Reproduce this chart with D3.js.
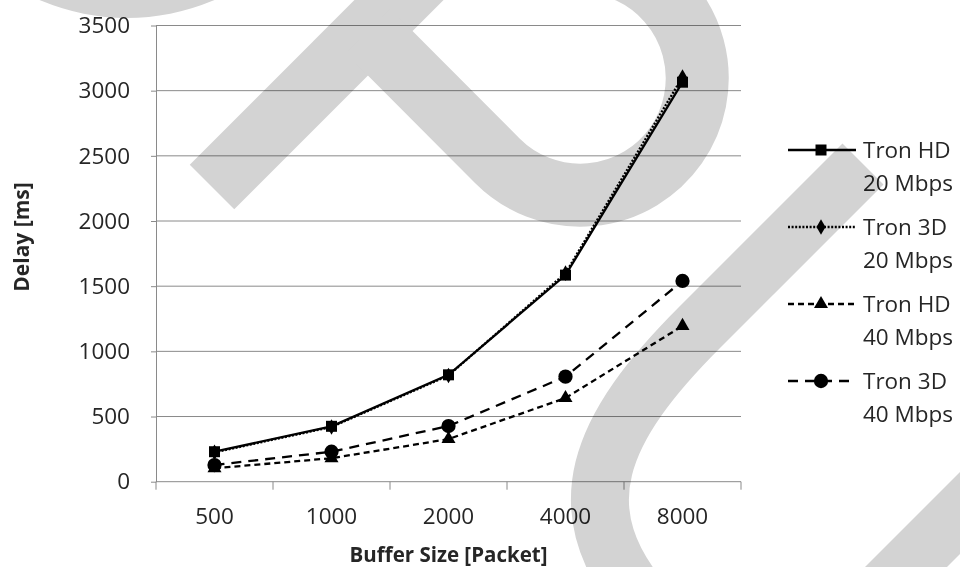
<!DOCTYPE html>
<html>
<head>
<meta charset="utf-8">
<script src="https://cdn.jsdelivr.net/npm/d3@7"></script>
<style>
  html, body { margin: 0; padding: 0; background: #fff; }
  svg { display: block; }
  text { font-family: "Open Sans", "Noto Sans", sans-serif; fill: #262626; }
</style>
</head>
<body>
<svg id="chart" width="960" height="567"></svg>
<script>
// Buffer sizes (packets) on the category axis
const categories = ["500", "1000", "2000", "4000", "8000"];

// Delay in ms per series
const tronHD20 = [230, 425, 820, 1585, 3065];
const tron3D20 = [225, 420, 815, 1600, 3105];
const tronHD40 = [103, 180, 327, 642, 1195];
const tron3D40 = [128, 230, 427, 806, 1540];

const yTicks = [0, 500, 1000, 1500, 2000, 2500, 3000, 3500];

const seriesNames = [["Tron HD", "20 Mbps"], ["Tron 3D", "20 Mbps"], ["Tron HD", "40 Mbps"], ["Tron 3D", "40 Mbps"]];

const series = [
  { name: seriesNames[0], values: tronHD20, dash: null,    symbol: d3.symbolSquare,   size: 121 },
  { name: seriesNames[1], values: tron3D20, dash: "2,1.6", symbol: d3.symbolDiamond,  size: 70 },
  { name: seriesNames[2], values: tronHD40, dash: "6,4",   symbol: d3.symbolTriangle, size: 85 },
  { name: seriesNames[3], values: tron3D40, dash: "10,7",  symbol: d3.symbolCircle,   size: 160 }
];

const svg = d3.select("#chart");
const plot = { left: 156, right: 741, top: 25.5, bottom: 481.7 };

const x = d3.scaleBand().domain(categories).range([plot.left, plot.right]).paddingInner(0).paddingOuter(0);
const y = d3.scaleLinear().domain([0, 3500]).range([plot.bottom, plot.top]);
const gridColor = "#8a8a8a";

// horizontal gridlines
svg.append("g")
  .selectAll("line")
  .data(yTicks.slice(1))
  .join("line")
  .attr("x1", plot.left).attr("x2", plot.right)
  .attr("y1", d => y(d)).attr("y2", d => y(d))
  .attr("stroke", gridColor).attr("stroke-width", 1);

// y axis
const yAxis = svg.append("g")
  .attr("transform", `translate(${plot.left},0)`)
  .call(d3.axisLeft(y).tickValues(yTicks).tickFormat(d3.format("d"))
    .tickSize(5).tickPadding(21).tickSizeOuter(0));
yAxis.select(".domain").attr("stroke", gridColor);
yAxis.selectAll(".tick line").attr("stroke", gridColor);
yAxis.selectAll(".tick text")
  .attr("font-size", 22.5).attr("font-family", "'Open Sans', sans-serif").attr("fill", "#262626");

// x axis: ticks sit on band boundaries
const xAxisG = svg.append("g").attr("transform", `translate(0,${plot.bottom})`);
xAxisG.append("line")
  .attr("x1", plot.left).attr("x2", plot.right)
  .attr("stroke", gridColor).attr("stroke-width", 1);
const boundaries = categories.map(c => x(c)).concat([x(categories[categories.length - 1]) + x.bandwidth()]);
xAxisG.selectAll(".bt")
  .data(boundaries)
  .join("line")
  .attr("class", "bt")
  .attr("x1", d => d).attr("x2", d => d)
  .attr("y1", 0).attr("y2", 8)
  .attr("stroke", gridColor);
xAxisG.selectAll(".xl")
  .data(categories)
  .join("text")
  .attr("class", "xl")
  .attr("x", d => x(d) + x.bandwidth() / 2)
  .attr("y", 42)
  .attr("text-anchor", "middle")
  .attr("font-size", 22.5)
  .text(d => d);

// axis titles
svg.append("text")
  .attr("x", (plot.left + plot.right) / 2)
  .attr("y", 562)
  .attr("text-anchor", "middle")
  .attr("font-size", 20.5).attr("font-weight", "bold")
  .text("Buffer Size [Packet]");
svg.append("text")
  .attr("transform", "translate(29,237) rotate(-90)")
  .attr("text-anchor", "middle")
  .attr("font-size", 21).attr("font-weight", "bold")
  .text("Delay [ms]");

// series lines and markers
const line = d3.line()
  .x((d, i) => x(categories[i]) + x.bandwidth() / 2)
  .y(d => y(d));

const drawOrder = [3, 2, 1, 0];
drawOrder.forEach(k => {
  const s = series[k];
  const g = svg.append("g");
  g.append("path")
    .attr("d", line(s.values))
    .attr("fill", "none")
    .attr("stroke", "#000")
    .attr("stroke-width", 2.3)
    .attr("stroke-dasharray", s.dash);
  g.selectAll("path.m")
    .data(s.values)
    .join("path")
    .attr("class", "m")
    .attr("transform", (d, i) => `translate(${x(categories[i]) + x.bandwidth() / 2},${y(d)})`)
    .attr("d", d3.symbol(s.symbol, s.size))
    .attr("fill", "#000");
});

// legend
const legend = svg.append("g").attr("transform", "translate(788,150)");
series.forEach((s, i) => {
  const row = legend.append("g").attr("transform", `translate(0,${i * 77})`);
  row.append("line")
    .attr("x1", 0).attr("x2", 68).attr("y1", 0).attr("y2", 0)
    .attr("stroke", "#000").attr("stroke-width", 2.3)
    .attr("stroke-dasharray", s.dash);
  row.append("path")
    .attr("transform", "translate(33,0)")
    .attr("d", d3.symbol(s.symbol, s.size))
    .attr("fill", "#000");
  row.append("text")
    .attr("x", 75).attr("y", 8)
    .attr("font-size", 22.5)
    .text(s.name[0]);
  row.append("text")
    .attr("x", 75).attr("y", 41)
    .attr("font-size", 22.5)
    .text(s.name[1]);
});

// large grey background glyph strokes laid over the page
const mark = svg.append("g").style("mix-blend-mode", "multiply").attr("fill", "none").attr("stroke", "#d3d3d3");
mark.append("circle").attr("cx", 127).attr("cy", -204).attr("r", 222).attr("fill", "#d3d3d3").attr("stroke", "none");
mark.append("path")
  .attr("stroke-width", 63)
  .attr("d", "M212,187 L472,-73");
mark.append("path")
  .attr("stroke-width", 63)
  .attr("d", "M368,31 L497.3,160.7 A117,117 0 1 0 629.4,-28 L660,-95");
mark.append("path")
  .attr("stroke-width", 58)
  .attr("d", "M863,164 L700,327 C600,427 560,510 650,610");
mark.append("path")
  .attr("stroke-width", 58)
  .attr("d", "M843,630 L1023,450");
</script>
</body>
</html>
